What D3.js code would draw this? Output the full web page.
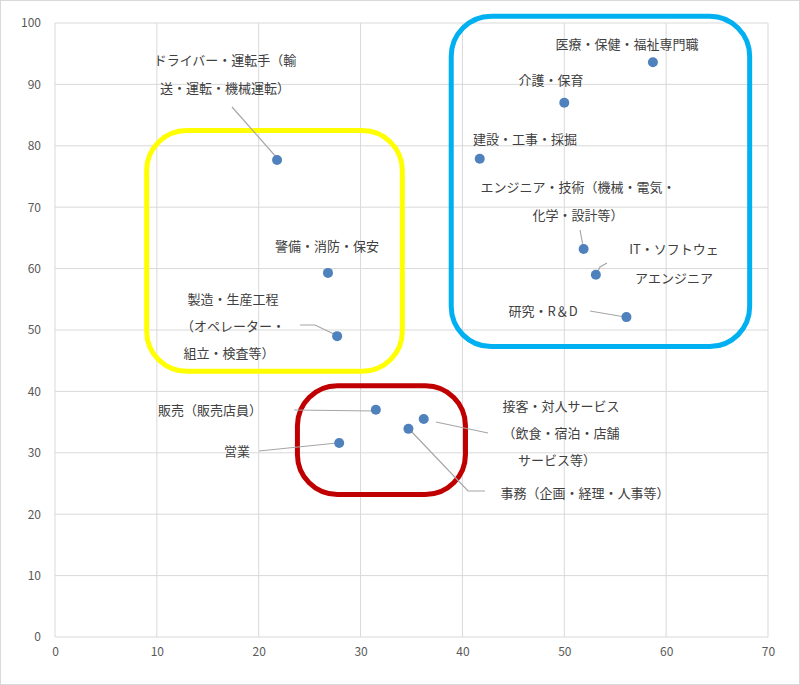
<!DOCTYPE html>
<html><head><meta charset="utf-8">
<script src="https://cdn.jsdelivr.net/npm/d3@7"></script>
<style>body{margin:0;background:#fff}text{font-family:"Noto Sans CJK JP","Noto Sans",sans-serif}</style>
</head><body><div id="chart"></div>
<script>
// Data values
var jobs = ["ドライバー・運転手","警備・消防・保安","製造・生産工程","医療・保健・福祉専門職","介護・保育","建設・工事・採掘","エンジニア・技術","IT・ソフトウェアエンジニア","研究・R＆D","販売","営業","接客・対人サービス","事務"];
var xVals = [21.8, 26.8, 27.7, 58.7, 50.0, 41.7, 51.9, 53.1, 56.1, 31.5, 27.9, 36.2, 34.7];
var yVals = [77.7, 59.3, 49.0, 93.6, 87.0, 77.9, 63.2, 59.0, 52.1, 37.0, 31.6, 35.5, 33.9];
var xTicks = [0, 10, 20, 30, 40, 50, 60, 70];
var yTicks = [0, 10, 20, 30, 40, 50, 60, 70, 80, 90, 100];

// Label lines (text, centre in px) and leader lines (px)
var labels = [
  ["ドライバー・運転手（輸", 225, 60], ["送・運転・機械運転）", 225, 88],
  ["警備・消防・保安", 327, 246],
  ["製造・生産工程", 233, 299], ["（オペレーター・", 233, 326], ["組立・検査等）", 229, 353],
  ["医療・保健・福祉専門職", 627, 44], ["介護・保育", 551, 80], ["建設・工事・採掘", 525, 139],
  ["エンジニア・技術（機械・電気・", 578, 187], ["化学・設計等）", 578, 215],
  ["IT・ソフトウェ", 674, 249], ["アエンジニア", 674, 278], ["研究・R＆D", 543, 311],
  ["販売（販売店員）", 210, 410], ["営業", 237, 451],
  ["接客・対人サービス", 561, 406], ["（飲食・宿泊・店舗", 561, 433], ["サービス等）", 557, 460],
  ["事務（企画・経理・人事等）", 585, 493]
];
var leaders = [
  [[232,107],[277,158]],
  [[300,325],[315,325],[336,335]],
  [[580,230],[583,246]],
  [[607,263],[600,267],[597,273]],
  [[590,311],[625,317]],
  [[294,410],[374,411]],
  [[259,451],[337,443]],
  [[436,422],[488,433]],
  [[410,430],[468,491],[485,491]]
];
// Grouping boxes in data units: x0, x1, yTop, yBottom, colour
var boxes = [
  [9.0, 34.1, 82.5, 43.3, "#ffff00"],
  [38.9, 68.2, 101.1, 47.3, "#00b0f0"],
  [23.8, 40.3, 40.9, 23.2, "#c00000"]
];

var width = 800, height = 685;
var margin = {top: 23, right: 32, bottom: 48, left: 55};
var svg = d3.select("#chart").append("svg").attr("width", width).attr("height", height);
svg.append("rect").attr("x", 0.5).attr("y", 0.5).attr("width", width - 1).attr("height", height - 1)
  .attr("fill", "#fff").attr("stroke", "#d9d9d9");

var x = d3.scaleLinear().domain([0, 70]).range([margin.left, width - margin.right]);
var y = d3.scaleLinear().domain([0, 100]).range([height - margin.bottom, margin.top]);

// grid
svg.append("g").selectAll("line").data(xTicks).enter().append("line")
  .attr("x1", d => x(d)).attr("x2", d => x(d)).attr("y1", y(0)).attr("y2", y(100))
  .attr("stroke", "#d9d9d9");
svg.append("g").selectAll("line").data(yTicks).enter().append("line")
  .attr("x1", x(0)).attr("x2", x(70)).attr("y1", d => y(d)).attr("y2", d => y(d))
  .attr("stroke", "#d9d9d9");

var xAxis = svg.append("g").attr("transform", `translate(0,${y(0)})`)
  .call(d3.axisBottom(x).tickValues(xTicks).tickSize(0).tickPadding(10));
var yAxis = svg.append("g").attr("transform", `translate(${x(0)},0)`)
  .call(d3.axisLeft(y).tickValues(yTicks).tickSize(0).tickPadding(14));
[xAxis, yAxis].forEach(function(a) {
  a.select(".domain").remove();
  a.selectAll("text").attr("fill", "#595959").style("font-size", "12px");
});

// boxes
svg.append("g").selectAll("rect").data(boxes).enter().append("rect")
  .attr("x", d => x(d[0])).attr("y", d => y(d[2]))
  .attr("width", d => x(d[1]) - x(d[0])).attr("height", d => y(d[3]) - y(d[2]))
  .attr("rx", 40).attr("fill", "none").attr("stroke", d => d[4]).attr("stroke-width", 5);
svg.select("g:last-of-type").selectAll("rect").filter((d, i) => i == 2).attr("rx", 22);

// leader lines
svg.append("g").selectAll("path").data(leaders).enter().append("path")
  .attr("d", d => d3.line()(d)).attr("fill", "none").attr("stroke", "#a6a6a6").attr("stroke-width", 1.2);

// points
svg.append("g").selectAll("circle").data(jobs).enter().append("circle")
  .attr("cx", (d, i) => x(xVals[i])).attr("cy", (d, i) => y(yVals[i]))
  .attr("r", 5).attr("fill", "#4f81bd");

// labels
svg.append("g").selectAll("text").data(labels).enter().append("text")
  .attr("x", d => d[1]).attr("y", d => d[2]).attr("dy", "0.35em")
  .attr("text-anchor", "middle").attr("fill", "#404040").style("font-size", "13px")
  .text(d => d[0]);
</script></body></html>
